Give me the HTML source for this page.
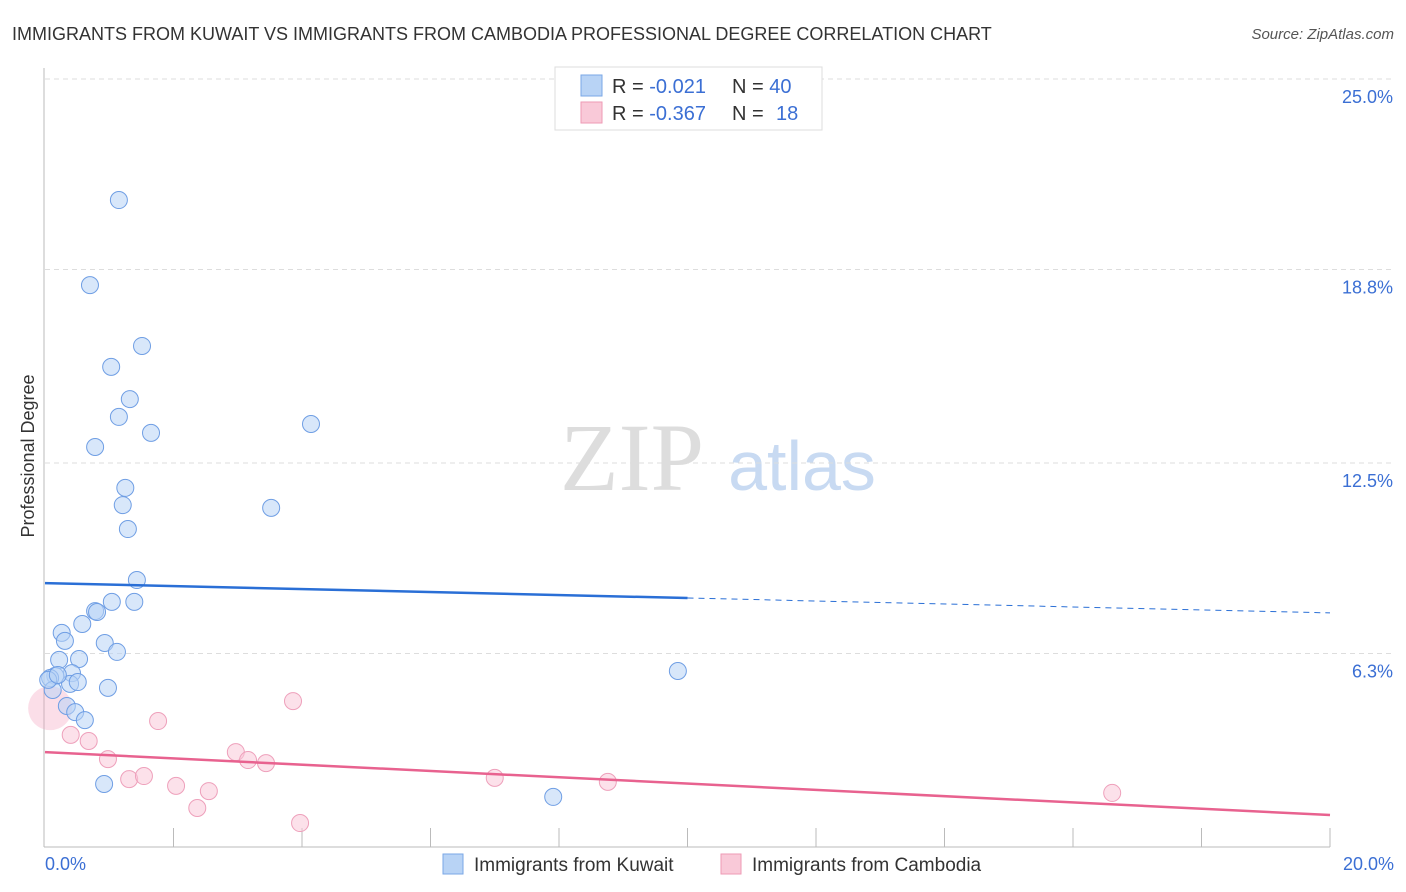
<!DOCTYPE html>
<html><head><meta charset="utf-8"><style>
body{margin:0;background:#fff;font-family:"Liberation Sans",sans-serif;}
svg{display:block}
</style></head><body>
<svg id="chart" width="1406" height="892" xmlns="http://www.w3.org/2000/svg">
<text x="12" y="40" font-size="18" fill="#333">IMMIGRANTS FROM KUWAIT VS IMMIGRANTS FROM CAMBODIA PROFESSIONAL DEGREE CORRELATION CHART</text>
<text x="1394" y="39" font-size="15" fill="#555" font-style="italic" text-anchor="end">Source: ZipAtlas.com</text>
<text transform="translate(34,456) rotate(-90)" font-size="18" fill="#333" text-anchor="middle">Professional Degree</text>
<g>
<text x="632" y="490" font-size="96" font-family="Liberation Serif,serif" fill="#ddd" text-anchor="middle">ZIP</text>
<text x="802" y="490" font-size="70" fill="#c8daf2" text-anchor="middle">atlas</text>
</g>
<g id="grid"></g><g id="axes"></g><g id="marks"></g>
<g>
<rect x="555" y="67" width="267" height="63" fill="#fff" stroke="#ddd"/>
<rect x="581" y="75" width="21" height="21" fill="#b8d3f5" stroke="#7aa7e6"/>
<text x="612" y="93" font-size="20" fill="#333">R = <tspan fill="#3b6fd4">-0.021</tspan>  <tspan x="732">N = </tspan><tspan fill="#3b6fd4">40</tspan></text>
<rect x="581" y="102" width="21" height="21" fill="#f9c9d8" stroke="#ee9ab5"/>
<text x="612" y="120" font-size="20" fill="#333">R = <tspan fill="#3b6fd4">-0.367</tspan>  <tspan x="732">N = </tspan><tspan fill="#3b6fd4" x="776">18</tspan></text>
</g>
<g>
<rect x="443" y="854" width="20" height="20" fill="#b8d3f5" stroke="#7aa7e6"/>
<text x="474" y="871" font-size="19" fill="#333">Immigrants from Kuwait</text>
<rect x="721" y="854" width="20" height="20" fill="#f9c9d8" stroke="#ee9ab5"/>
<text x="752" y="871" font-size="19" fill="#333">Immigrants from Cambodia</text>
</g>
</svg>
<script>
const yTicks=[25.0,18.8,12.5,6.3];
const yTickLabels=["25.0%","18.8%","12.5%","6.3%"];
const xTickLabels=["0.0%","20.0%"];
const kuwaitX=[1.15,0.70,1.51,1.03,1.32,1.15,1.65,0.78,4.14,1.25,1.21,3.52,1.29,1.43,1.04,1.39,0.78,0.81,0.58,0.26,0.31,0.93,1.12,0.53,0.22,0.42,0.16,0.08,0.39,0.51,0.98,0.12,0.34,0.47,0.62,0.92,7.91,9.85,0.05,0.20];
const kuwaitY=[21.06,18.29,16.31,15.63,14.58,14.00,13.48,13.02,13.77,11.69,11.13,11.04,10.35,8.69,7.98,7.98,7.68,7.65,7.26,6.97,6.71,6.64,6.35,6.12,6.09,5.66,5.57,5.50,5.31,5.37,5.18,5.11,4.59,4.39,4.13,2.05,1.63,5.73,5.44,5.60];
const cambX=[3.86,1.76,0.40,0.68,0.98,2.97,3.16,3.44,1.31,1.54,2.04,2.55,2.37,3.97,0.08,7.00,8.76,16.61];
const cambY=[4.75,4.10,3.65,3.45,2.86,3.09,2.83,2.73,2.21,2.31,1.99,1.82,1.27,0.78,4.52,2.25,2.12,1.76];
const kuwaitTrend=[8.59,7.62];
const cambTrend=[3.09,1.04];
const NS="http://www.w3.org/2000/svg";
const X=v=>45+v/20*1285, Y=v=>847-v/25*768;
function mk(parent,tag,attrs){const e=document.createElementNS(NS,tag);for(const k in attrs)e.setAttribute(k,attrs[k]);document.getElementById(parent).appendChild(e);return e;}
yTicks.forEach((t,i)=>{
 const g=mk("grid","line",{x1:45,x2:1394,y1:Y(t),y2:Y(t),stroke:"#ddd","stroke-dasharray":"5,4"});
 
 
 const l=mk("axes","text",{x:1393,y:Y(t)+24,"font-size":18,fill:"#3b6fd4","text-anchor":"end"});l.textContent=yTickLabels[i];
 
 
});
let ax=mk("axes","line",{x1:44,x2:44,y1:68,y2:847,stroke:"#bbb"});


ax=mk("axes","line",{x1:44,x2:1330,y1:847,y2:847,stroke:"#bbb"});


for(let i=1;i<=10;i++){const t=mk("axes","line",{x1:X(i*2),x2:X(i*2),y1:828,y2:847,stroke:"#bbb"});
 
 }
[[0,"start",45],[20,"end",1394]].forEach((d,i)=>{const l=mk("axes","text",{x:d[2],y:870,"font-size":18,fill:"#3b6fd4","text-anchor":d[1]});l.textContent=xTickLabels[i];
 
 });
const big=mk("marks","circle",{cx:X(cambX[14]),cy:Y(cambY[14]),r:22,fill:"rgba(244,160,188,0.35)",stroke:"none"});


cambX.forEach((x,i)=>{if(i===14)return;const c=mk("marks","circle",{cx:X(x),cy:Y(cambY[i]),r:8.5,fill:"rgba(249,201,216,0.55)",stroke:"#eea0bb","stroke-width":1});
 
 });
kuwaitX.forEach((x,i)=>{const c=mk("marks","circle",{cx:X(x),cy:Y(kuwaitY[i]),r:8.5,fill:"rgba(184,211,245,0.55)",stroke:"#6f9ee4","stroke-width":1});
 
 });
const kAt=x=>kuwaitTrend[0]+(kuwaitTrend[1]-kuwaitTrend[0])*x/20;
let tl=mk("marks","line",{x1:X(0),y1:Y(kAt(0)),x2:X(10),y2:Y(kAt(10)),stroke:"#2a6fd6","stroke-width":2.5});


tl=mk("marks","line",{x1:X(10),y1:Y(kAt(10)),x2:X(20),y2:Y(kAt(20)),stroke:"#2a6fd6","stroke-width":1,"stroke-dasharray":"6,5"});


tl=mk("marks","line",{x1:X(0),y1:Y(cambTrend[0]),x2:X(20),y2:Y(cambTrend[1]),stroke:"#e8628f","stroke-width":2.5});


</script>
</body></html>
